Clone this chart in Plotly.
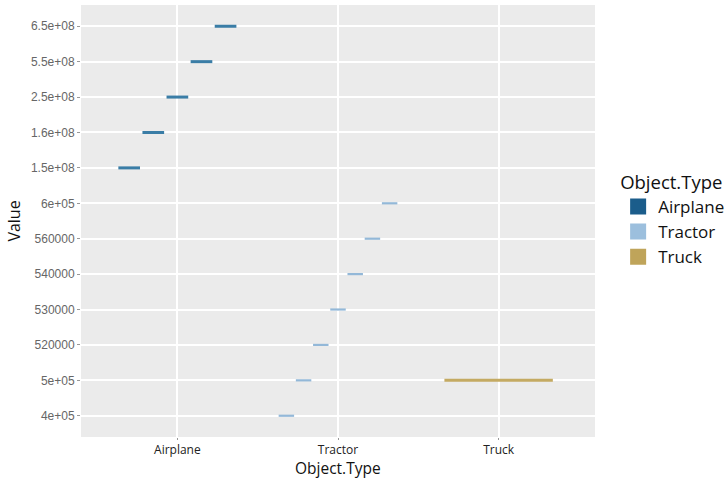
import plotly.graph_objects as go

# ---- data ----
object_types = ["Airplane", "Tractor", "Truck"]
value_levels = ["4e+05", "5e+05", "520000", "530000", "540000", "560000", "6e+05",
                "1.5e+08", "1.6e+08", "2.5e+08", "5.5e+08", "6.5e+08"]
airplane_values = ["1.5e+08", "1.6e+08", "2.5e+08", "5.5e+08", "6.5e+08"]
tractor_values = ["4e+05", "5e+05", "520000", "530000", "540000", "560000", "6e+05"]
truck_values = ["5e+05"]

series = {"Airplane": airplane_values, "Tractor": tractor_values, "Truck": truck_values}
line_colors = {"Airplane": "#3a7da6", "Tractor": "#93b8d8", "Truck": "#c4aa62"}
key_colors = {"Airplane": "#1b5d8b", "Tractor": "#9cbfdd", "Truck": "#bfa45a"}
line_widths = {"Airplane": 3, "Tractor": 2.2, "Truck": 3}

fig = go.Figure()

dodge_total = 0.75
for i, name in enumerate(object_types):
    vals = series[name]
    n = len(vals)
    slot = dodge_total / n
    half = slot * 0.9 / 2
    xs, ys = [], []
    for j, v in enumerate(vals):
        c = i - dodge_total / 2 + slot * (j + 0.5)
        xs += [c - half, c + half, None]
        ys += [v, v, None]
    fig.add_trace(go.Scatter(x=xs, y=ys, mode="lines",
                             line=dict(color=line_colors[name], width=line_widths[name]),
                             showlegend=False, hoverinfo="skip"))

for name in object_types:
    fig.add_trace(go.Scatter(x=[None], y=[None], mode="markers", name=name,
                             marker=dict(symbol="square", size=16, color=key_colors[name]),
                             showlegend=True))

fig.add_annotation(
    text="Object.Type", xref="paper", yref="paper", x=0.5, y=-0.0985,
    xanchor="center", yanchor="bottom", showarrow=False, borderpad=0,
    font=dict(family="Open Sans, sans-serif", size=15.5, color="#111"),
)

fig.update_layout(
    width=725, height=479,
    margin=dict(l=81, r=130, t=5, b=42, autoexpand=False),
    paper_bgcolor="white",
    plot_bgcolor="#ebebeb",
    font=dict(family="Liberation Sans, Arial, sans-serif", color="#222"),
    legend=dict(
        x=1.045, xanchor="left", y=0.63, yanchor="top",
        title=dict(text="Object.Type", font=dict(family="Open Sans, sans-serif", size=18.5, color="#111")),
        font=dict(family="Open Sans, sans-serif", size=17, color="#111"),
        bgcolor="rgba(0,0,0,0)",
        tracegroupgap=0,
    ),
    xaxis=dict(
        range=[-0.6, 2.6], tickvals=[0, 1, 2], ticktext=object_types,
        showgrid=True, gridcolor="white", gridwidth=1.5, zeroline=False,
        ticks="outside", ticklen=2, tickcolor="#999", automargin=False,
        tickfont=dict(family="Open Sans, sans-serif", size=12, color="#222"),
    ),
    yaxis=dict(
        type="category", categoryorder="array", categoryarray=value_levels,
        range=[-0.6, len(value_levels) - 0.4],
        showgrid=True, gridcolor="white", gridwidth=1.5, zeroline=False,
        ticks="outside", ticklen=3, tickcolor="#999", automargin=False,
        tickfont=dict(family="Liberation Sans, Arial, sans-serif", size=12, color="#666"),
        title=dict(text="Value", standoff=6,
                   font=dict(family="Open Sans, sans-serif", size=16, color="#111")),
    ),
)

fig.write_html("out.html", config={"displayModeBar": False},
               post_script="document.body.style.margin='0px';")
